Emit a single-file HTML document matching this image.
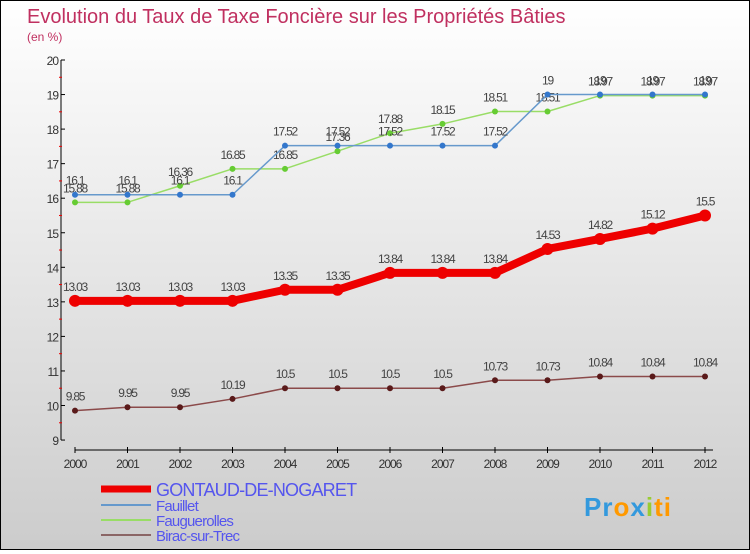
<!DOCTYPE html>
<html><head><meta charset="utf-8"><style>
body{margin:0;width:750px;height:550px;overflow:hidden;font-family:"Liberation Sans",sans-serif}
#wrap{position:relative;width:748px;height:548px;border:1px solid #000;background:linear-gradient(#fff,#ccc)}
</style></head><body>
<div id="wrap">
<svg id="chart" width="748" height="548"></svg>
</div>
<script>
const years=[2000,2001,2002,2003,2004,2005,2006,2007,2008,2009,2010,2011,2012];
const gontaud=[13.03,13.03,13.03,13.03,13.35,13.35,13.84,13.84,13.84,14.53,14.82,15.12,15.5];
const fauillet=[16.1,16.1,16.1,16.1,17.52,17.52,17.52,17.52,17.52,19,19,19,19];
const faug=[15.88,15.88,16.36,16.85,16.85,17.36,17.88,18.15,18.51,18.51,18.97,18.97,18.97];
const birac=[9.85,9.95,9.95,10.19,10.5,10.5,10.5,10.5,10.73,10.73,10.84,10.84,10.84];
const yTicks=[9,10,11,12,13,14,15,16,17,18,19,20];
const NS='http://www.w3.org/2000/svg';const svg=document.getElementById('chart');
const X=i=>74+i*52.5, Y=v=>59+(20-v)*34.55;
function el(t,a,p){const e=document.createElementNS(NS,t);for(const k in a)e.setAttribute(k,a[k]);(p||svg).appendChild(e);return e;}
let t=el('text',{x:26,y:22,'font-size':20,fill:'#c03060'});t.textContent='Evolution du Taux de Taxe Foncière sur les Propriétés Bâties';

t=el('text',{x:26,y:40,'font-size':12,fill:'#c03060'});t.textContent='(en %)';

let a=el('line',{x1:60,y1:Y(20),x2:60,y2:Y(9),stroke:'#000'});
yTicks.forEach(v=>{el('line',{x1:60,y1:Y(v),x2:64,y2:Y(v),stroke:'#000'});
 if(v<20)el('line',{x1:58,y1:Y(v+0.5),x2:61,y2:Y(v+0.5),stroke:'#e00'});
 const l=el('text',{x:57,y:Y(v)+5,'font-size':12,fill:'#333','text-anchor':'end','letter-spacing':'-1'});l.textContent=v;
 });
a=el('line',{x1:X(0),y1:449,x2:712,y2:449,stroke:'#000'});
years.forEach((y,i)=>{el('line',{x1:X(i),y1:446,x2:X(i),y2:452,stroke:'#000'});
 const l=el('text',{x:X(i),y:467,'font-size':12,fill:'#333','text-anchor':'middle','letter-spacing':'-1'});l.textContent=y;
 });
function series(d,col,w,r,dot,name){
 const g=el('g',{});
 el('polyline',{points:d.map((v,i)=>X(i)+','+Y(v)).join(' '),fill:'none',stroke:col,'stroke-width':w,'stroke-linejoin':'round'},g);
 d.forEach((v,i)=>{const c=el('circle',{cx:X(i),cy:Y(v),r:r,fill:dot},g);
  const l=el('text',{x:X(i),y:Y(v)-10,'font-size':12,fill:'#444','text-anchor':'middle','letter-spacing':'-1.2'},g);l.textContent=v;
  });
}
series(birac,'#8b4a4a',1.5,3,'#5a1a1a','series-birac');
series(faug,'#99dd66',1.5,3,'#66cc33','series-faugerolles');
series(fauillet,'#6699cc',1.5,3,'#3377cc','series-fauillet');
series(gontaud,'#ee0000',8,6,'#ee0000','series-gontaud');
const leg=[['GONTAUD-DE-NOGARET','#ee0000',7,18],['Fauillet','#6699cc',2,15],['Fauguerolles','#99dd66',2,15],['Birac-sur-Trec','#8b6666',2,15]];
const ly=[492,508,523,538];
leg.forEach((L,i)=>{const g=el('g',{});
 el('line',{x1:100,y1:ly[i]-4,x2:150,y2:ly[i]-4,stroke:L[1],'stroke-width':L[2]},g);
 const tx=el('text',{x:155,y:ly[i]+(i==0?3:2),'font-size':L[3],fill:'#5555ee','letter-spacing':'-0.8'},g);tx.textContent=L[0];});
const lg=el('text',{x:583,y:515,'font-size':26,'font-weight':'bold','letter-spacing':'1'});
[['Pr','#3399dd'],['o','#ff9900'],['x','#3399dd'],['i','#99cc33'],['ti','#ff9900']].forEach(p=>{const s=el('tspan',{fill:p[1]},lg);s.textContent=p[0];});
</script></body></html>
